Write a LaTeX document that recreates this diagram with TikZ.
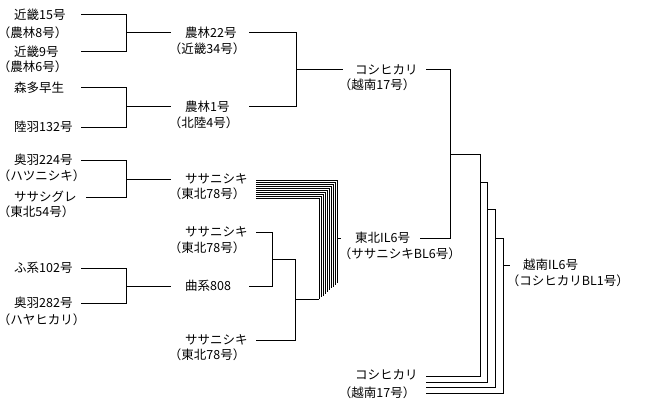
\documentclass[tikz,border=0pt]{standalone}
\usepackage{fontspec}
\newfontfamily\jpfont{Noto Sans CJK JP}
\newfontfamily\jphalt{Noto Sans CJK JP}[RawFeature=+halt]
\usetikzlibrary{calc}

\begin{document}
\begin{tikzpicture}[
    x=1pt, y=-1pt,
    cultivar/.style={anchor=west, inner sep=0pt, font=\jpfont\fontsize{12.5}{14}\selectfont},
    former/.style={cultivar, xshift=-10pt, font=\jphalt\fontsize{12.5}{14}\selectfont},
    link/.style={line width=1pt},
  ]
  \useasboundingbox (0,0) rectangle (670,420);

  % grandparents
  \node[cultivar] (k15)   at (14, 15)  {近畿15号};
  \node[former]   (k15p)  at (14, 33)  {（農林8号）};
  \node[cultivar] (k9)    at (14, 52)  {近畿9号};
  \node[former]   (k9p)   at (14, 67)  {（農林6号）};
  \node[cultivar] (mori)  at (14, 88)  {森多早生};
  \node[cultivar] (r132)  at (14, 127) {陸羽132号};
  \node[cultivar] (o224)  at (14, 160) {奥羽224号};
  \node[former]   (o224p) at (14, 176) {（ハツニシキ）};
  \node[cultivar] (sasg)  at (14, 197) {ササシグレ};
  \node[former]   (sasgp) at (14, 212) {（東北54号）};
  \node[cultivar] (f102)  at (14, 268) {ふ系102号};
  \node[cultivar] (o282)  at (14, 303) {奥羽282号};
  \node[former]   (o282p) at (14, 320) {（ハヤヒカリ）};

  % parents
  \node[cultivar] (n22)   at (185, 33)  {農林22号};
  \node[former]   (n22p)  at (185, 49)  {（近畿34号）};
  \node[cultivar] (n1)    at (185, 107) {農林1号};
  \node[former]   (n1p)   at (185, 123) {（北陸4号）};
  \node[cultivar] (sas1)  at (185, 179) {ササニシキ};
  \node[former]   (sas1p) at (185, 194) {（東北78号）};
  \node[cultivar] (sas2)  at (185, 232) {ササニシキ};
  \node[former]   (sas2p) at (185, 248) {（東北78号）};
  \node[cultivar] (k808)  at (185, 286) {曲系808};
  \node[cultivar] (sas3)  at (185, 340) {ササニシキ};
  \node[former]   (sas3p) at (185, 355) {（東北78号）};

  % crosses
  \node[cultivar] (kos1)  at (355, 70)  {コシヒカリ};
  \node[former]   (kos1p) at (355, 85)  {（越南17号）};
  \node[cultivar] (til6)  at (355, 238) {東北IL6号};
  \node[former]   (til6p) at (355, 254) {（ササニシキBL6号）};
  \node[cultivar] (kos2)  at (355, 375) {コシヒカリ};
  \node[former]   (kos2p) at (355, 393) {（越南17号）};
  \node[cultivar] (eil6)  at (523, 265) {越南IL6号};
  \node[former]   (eil6p) at (523, 281) {（コシヒカリBL1号）};

  % columns and junctions
  \coordinate (cL)  at (81,0);
  \coordinate (cLs) at (86,0);
  \coordinate (cM)  at (171,0);
  \coordinate (cN)  at (249,0);
  \coordinate (cS)  at (256,0);
  \coordinate (cR)  at (343,0);
  \coordinate (stk) at (337,0);
  \coordinate (cT2) at (420,0);
  \coordinate (cT)  at (426,0);
  \coordinate (j1) at (126,33);
  \coordinate (j2) at (126,107);
  \coordinate (j3) at (126,179);
  \coordinate (j4) at (126,286);
  \coordinate (j5) at (296,70);
  \coordinate (j6) at (272,259);
  \coordinate (j7) at (295,299);
  \coordinate (j8) at (450,154);
  \coordinate (bc) at (319,299);

  \draw[link] (k15 -| cL) -| (j1) (k9 -| cL) -| (j1) -- (n22 -| cM);
  \draw[link] (mori -| cL) -| (j2) (r132 -| cL) -| (j2) -- (n1 -| cM);
  \draw[link] (o224 -| cL) -| (j3) (sasg -| cLs) -| (j3) -- (sas1 -| cM);
  \draw[link] (f102 -| cL) -| (j4) (o282 -| cL) -| (j4) -- (k808 -| cM);
  \draw[link] (n22 -| cN) -| (j5) (n1 -| cN) -| (j5) -- (kos1 -| cR);
  \draw[link] (sas2 -| cS) -| (j6) (k808 -| cN) -| (j6) -- (j6 -| j7) |- (sas3 -| cS);
  \draw[link] (j7) -- (bc);

  % repeated backcrosses to Sasanishiki
  \foreach \i in {0,...,9}
    \draw[link] ($(sas1 -| cS)+(0,{1+2*\i})$) -| ($(sas1 -| cS)+({81-2*\i},{104+1.8*\i})$);
  \draw[link] (til6 -| stk) -- ++(4,0);

  \draw[link] (kos1 -| cT) -| (j8) (til6 -| cT2) -| (j8);
  % backcrosses to Koshihikari
  \foreach \xa/\ya/\xb/\yb in {450/154/480/376, 480/182/487/382, 487/209/495/387, 495/238/503/393}
    \draw[link] (\xa,\ya) -| (\xb,\yb) -- (426,\yb);
  \draw[link] (503,265) -- ([xshift=-13pt]eil6.west);
\end{tikzpicture}
\end{document}
